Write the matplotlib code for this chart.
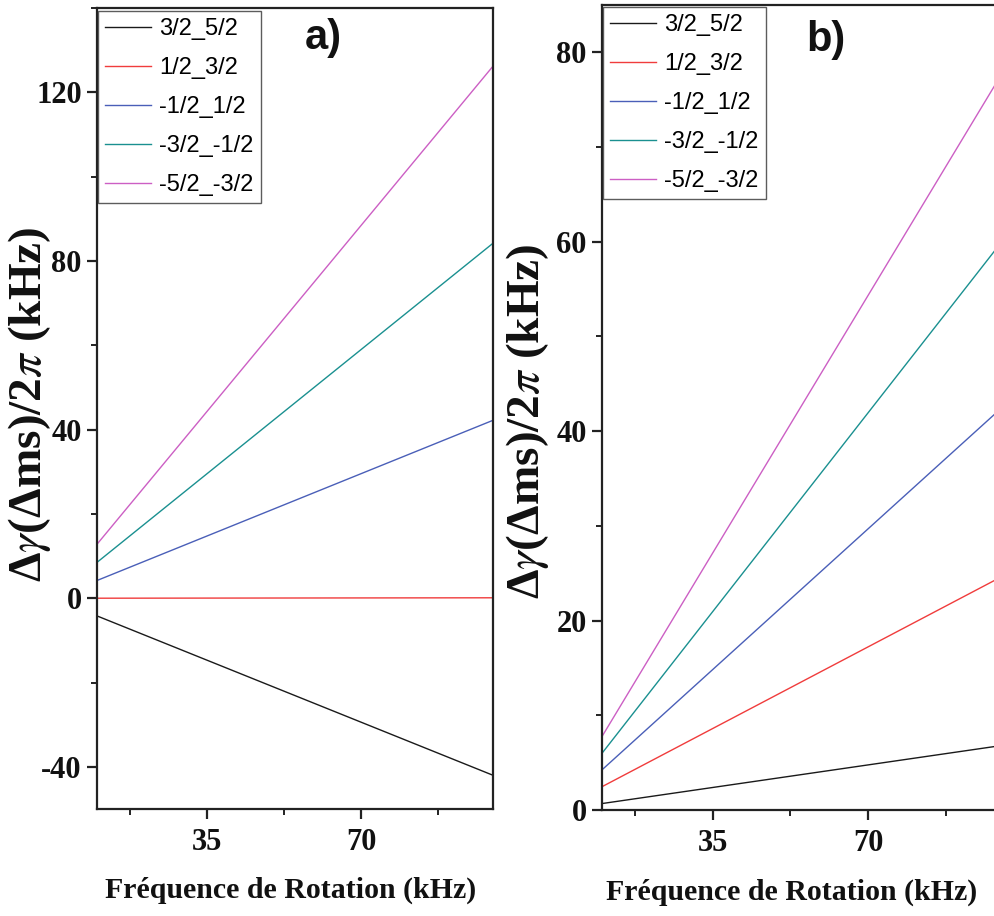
import matplotlib
matplotlib.use("Agg")
import matplotlib.pyplot as plt
from matplotlib.ticker import MultipleLocator

plt.rcParams['axes.unicode_minus'] = False
plt.rcParams['mathtext.fontset'] = 'stix'

# ---------------- data ----------------
labels = ["3/2_5/2", "1/2_3/2", "-1/2_1/2", "-3/2_-1/2", "-5/2_-3/2"]
colors = ["#1a1a1a", "#f03c3c", "#4a5fb8", "#1a9090", "#cc5fc4"]

freq_a = [10, 100]
a_3252 = [-4.2, -42.0]
a_1232 = [0.0, 0.1]
a_m1212 = [4.2, 42.2]
a_m32m12 = [8.5, 84.2]
a_m52m32 = [12.8, 126.2]

freq_b = [10, 100]
b_3252 = [0.68, 6.8]
b_1232 = [2.46, 24.6]
b_m1212 = [4.24, 42.4]
b_m32m12 = [5.99, 59.9]
b_m52m32 = [7.76, 77.6]

series_a = [a_3252, a_1232, a_m1212, a_m32m12, a_m52m32]
series_b = [b_3252, b_1232, b_m1212, b_m32m12, b_m52m32]

xticks = [35, 70]
yticks_a = [-40, 0, 40, 80, 120]
yticks_b = [0, 20, 40, 60, 80]

W, H = 994, 916
fig = plt.figure(figsize=(W / 100, H / 100), dpi=100)


def px_axes(l, t, r, b):
    return fig.add_axes([l / W, 1 - b / H, (r - l) / W, (b - t) / H])


serif = "Liberation Serif"
ylab = "Δ$\\gamma$(Δms)/2$\\pi$ (kHz)"


def style(ax, yticks, ymin_loc):
    ax.set_xlim(10, 100)
    ax.set_xticks(xticks)
    ax.xaxis.set_minor_locator(MultipleLocator(17.5))
    ax.set_yticks(yticks)
    ax.yaxis.set_minor_locator(MultipleLocator(ymin_loc))
    for s in ax.spines.values():
        s.set_linewidth(1.6)
        s.set_color("#222222")
    ax.tick_params(which="major", direction="out", length=7.5, width=1.6,
                   colors="#222222", pad=3.5)
    ax.tick_params(axis="x", which="major", pad=6)
    ax.tick_params(which="minor", direction="out", length=4, width=1.4,
                   colors="#222222")
    for lab in ax.get_xticklabels() + ax.get_yticklabels():
        lab.set_fontfamily(serif)
        lab.set_fontweight("bold")
        lab.set_fontsize(22)
        lab.set_color("#111111")
    ax.set_xlabel("Fréquence de Rotation (kHz)", family=serif,
                  fontweight="bold", fontsize=21.5, color="#111111")
    ax.set_ylabel(ylab, family=serif, fontweight="bold", fontsize=34,
                  color="#111111")


def draw(ax, x, series, top_px):
    for lab, c, ys in zip(labels, colors, series):
        ax.plot(x, ys, color=c, lw=1.0, label=lab)
    bb = ax.get_position()
    anchor = (bb.x0 + 1 / W, 1 - top_px / H)
    leg = ax.legend(loc="upper left", bbox_to_anchor=anchor,
                    bbox_transform=fig.transFigure,
                    prop={"family": "Liberation Sans", "size": 17},
                    frameon=True, fancybox=False, edgecolor="#333333",
                    borderaxespad=0.0, borderpad=0.3, handlelength=1.95,
                    handletextpad=0.35, labelspacing=0.72)
    leg.get_frame().set_linewidth(1.0)


# panel a
axa = px_axes(97, 8, 493, 809)
draw(axa, freq_a, series_a, 11)
axa.set_ylim(-50, 140)
style(axa, yticks_a, 20)
axa.xaxis.set_label_coords(0.49, -0.085)
axa.yaxis.set_label_coords(-0.112, 0.505)

# panel b (extends past right edge of the figure, as in the reference crop)
axb = px_axes(602, 5, 1001, 810)
draw(axb, freq_b, series_b, 7)
axb.set_ylim(0, 85)
style(axb, yticks_b, 10)
axb.xaxis.set_label_coords(0.475, -0.085)
axb.yaxis.set_label_coords(-0.127, 0.483)

fig.text(305 / W, 1 - 18 / H, "a)", family="Liberation Sans", fontweight="bold",
         fontsize=30, ha="left", va="top", color="#111111")
fig.text(806 / W, 1 - 20 / H, "b)", family="Liberation Sans", fontweight="bold",
         fontsize=30, ha="left", va="top", color="#111111")

fig.savefig("out.png", dpi=100)
